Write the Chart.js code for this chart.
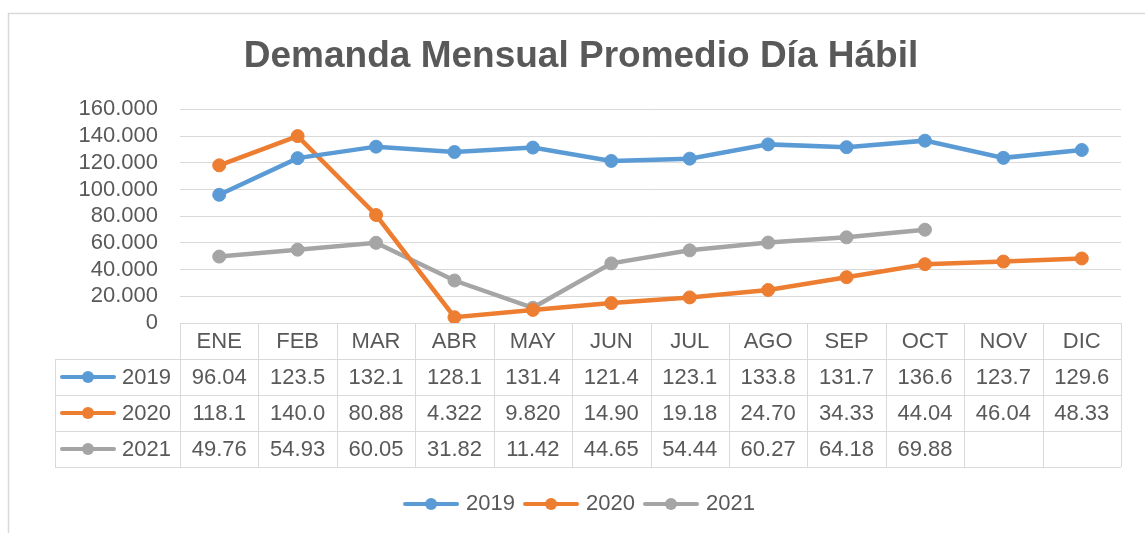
<!DOCTYPE html>
<html>
<head>
<meta charset="utf-8">
<script src="https://cdn.jsdelivr.net/npm/chart.js@4.4.1/dist/chart.umd.min.js"></script>
<style>
  html, body { margin: 0; padding: 0; background: #ffffff; }
  #wrap { position: relative; width: 1145px; height: 533px; }
  canvas { display: block; }
</style>
</head>
<body>
<div id="wrap"><canvas id="c" width="1145" height="533"></canvas></div>
<script>
const categories = ['ENE','FEB','MAR','ABR','MAY','JUN','JUL','AGO','SEP','OCT','NOV','DIC'];
const years = ['2019','2020','2021'];
const values2019 = [96.04,123.5,132.1,128.1,131.4,121.4,123.1,133.8,131.7,136.6,123.7,129.6];
const values2020 = [118.1,140.0,80.88,4.322,9.820,14.90,19.18,24.70,34.33,44.04,46.04,48.33];
const values2021 = [49.76,54.93,60.05,31.82,11.42,44.65,54.44,60.27,64.18,69.88,null,null];
const tableText2019 = ['96.04','123.5','132.1','128.1','131.4','121.4','123.1','133.8','131.7','136.6','123.7','129.6'];
const tableText2020 = ['118.1','140.0','80.88','4.322','9.820','14.90','19.18','24.70','34.33','44.04','46.04','48.33'];
const tableText2021 = ['49.76','54.93','60.05','31.82','11.42','44.65','54.44','60.27','64.18','69.88','',''];
const yTickLabels = ['0','20.000','40.000','60.000','80.000','100.000','120.000','140.000','160.000'];
const titleText = 'Demanda Mensual Promedio Día Hábil';

const colors = ['#5B9BD5', '#ED7D31', '#A5A5A5'];
const textColor = '#595959';
const gridColor = '#D9D9D9';
const FONT = '"Liberation Sans", Arial, sans-serif';
const TXT = 22;

function legendIcon(color) {
  const c = document.createElement('canvas');
  c.width = 56; c.height = 14;
  const g = c.getContext('2d');
  g.strokeStyle = color; g.lineWidth = 4; g.lineCap = 'round';
  g.beginPath(); g.moveTo(2, 7); g.lineTo(54, 7); g.stroke();
  g.fillStyle = color;
  g.beginPath(); g.arc(28, 7, 6, 0, Math.PI * 2); g.fill();
  return c;
}
const icons = colors.map(legendIcon);

const tablePlugin = {
  id: 'dataTable',
  afterDraw(chart) {
    const ctx = chart.ctx;
    const xs = chart.scales.x;
    const area = chart.chartArea;
    const n = categories.length;
    const colW = (area.right - area.left) / n;
    const top = area.bottom;
    const headH = 36, rowH = 36;
    const rowLeft = 55;
    const rows = [tableText2019, tableText2020, tableText2021];
    ctx.save();
    // outer frame (top and left edges of chart border)
    ctx.strokeStyle = '#D9D9D9';
    ctx.lineWidth = 1.5;
    ctx.beginPath();
    ctx.moveTo(8.5, 540); ctx.lineTo(8.5, 13.5); ctx.lineTo(1150, 13.5);
    ctx.stroke();

    ctx.strokeStyle = gridColor;
    ctx.lineWidth = 1;
    ctx.beginPath();
    ctx.moveTo(area.left, top + 0.5); ctx.lineTo(area.right, top + 0.5);
    for (let r = 0; r <= rows.length; r++) {
      const y = Math.round(top + headH + r * rowH) + 0.5;
      ctx.moveTo(rowLeft, y); ctx.lineTo(area.right, y);
    }
    for (let i = 0; i <= n; i++) {
      const x = Math.round(area.left + i * colW) + 0.5;
      ctx.moveTo(x, top); ctx.lineTo(x, top + headH + rows.length * rowH);
    }
    ctx.moveTo(rowLeft + 0.5, top + headH); ctx.lineTo(rowLeft + 0.5, top + headH + rows.length * rowH);
    ctx.stroke();

    ctx.fillStyle = textColor;
    ctx.font = TXT + 'px ' + FONT;
    ctx.textAlign = 'center';
    ctx.textBaseline = 'middle';
    categories.forEach((c, i) => {
      ctx.fillText(c, xs.getPixelForValue(i), top + headH / 2 + 1);
    });
    rows.forEach((row, r) => {
      const yc = top + headH + r * rowH + rowH / 2 + 1;
      row.forEach((t, i) => {
        if (t) ctx.fillText(t, xs.getPixelForValue(i), yc);
      });
      ctx.drawImage(icons[r], 60, Math.round(yc - 8));
      ctx.textAlign = 'right';
      ctx.fillText(years[r], area.left - 9, yc);
      ctx.textAlign = 'center';
    });
    ctx.restore();
  }
};

const mkDs = (label, data, color) => ({
  label, data,
  borderColor: color, backgroundColor: color,
  borderWidth: 4.5,
  pointRadius: 6.5, pointHoverRadius: 6.5,
  pointBackgroundColor: color, pointBorderColor: color, pointBorderWidth: 1,
  tension: 0, spanGaps: false
});

new Chart(document.getElementById('c'), {
  type: 'line',
  data: {
    labels: categories,
    datasets: [
      mkDs(years[0], values2019, colors[0]),
      mkDs(years[1], values2020, colors[1]),
      mkDs(years[2], values2021, colors[2])
    ]
  },
  options: {
    responsive: false,
    animation: false,
    devicePixelRatio: 1,
    layout: { padding: { left: 41, right: 24, top: 0, bottom: 8 } },
    plugins: {
      tooltip: { enabled: false },
      title: {
        display: true,
        text: titleText,
        color: textColor,
        font: { family: FONT, size: 37, weight: 'bold' },
        padding: { top: 35, bottom: 30 }
      },
      legend: {
        display: true,
        position: 'bottom',
        labels: {
          usePointStyle: true,
          pointStyleWidth: 48,
          color: textColor,
          font: { family: FONT, size: TXT },
          padding: 12,
          generateLabels(chart) {
            return chart.data.datasets.map((ds, i) => ({
              text: ds.label,
              pointStyle: icons[i],
              fillStyle: ds.borderColor,
              strokeStyle: ds.borderColor,
              lineWidth: 0,
              fontColor: textColor,
              hidden: false,
              datasetIndex: i
            }));
          }
        }
      }
    },
    scales: {
      x: {
        type: 'category',
        offset: true,
        display: true,
        grid: { display: false },
        border: { display: false },
        ticks: { display: false },
        afterFit(s) { s.height = 158; }
      },
      y: {
        min: 0, max: 160,
        border: { display: false },
        grid: { color: gridColor, lineWidth: 1, drawTicks: false },
        ticks: {
          stepSize: 20,
          autoSkip: false,
          padding: 22,
          color: textColor,
          font: { family: FONT, size: TXT },
          callback(v) { return yTickLabels[Math.round(v / 20)]; }
        },
        afterFit(s) { s.width = 139; }
      }
    }
  },
  plugins: [tablePlugin]
});
</script>
</body>
</html>
